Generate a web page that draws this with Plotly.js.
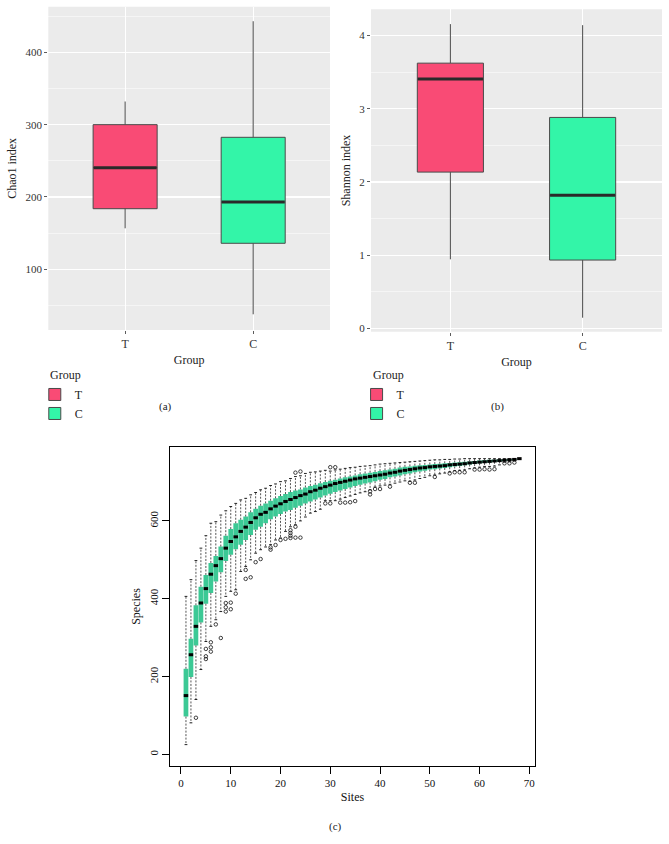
<!DOCTYPE html>
<html>
<head>
<meta charset="utf-8">
<script src="https://cdn.plot.ly/plotly-3.0.1.min.js"></script>
<style>html,body{margin:0;padding:0;background:#fff;}#chart{width:669px;height:844px;}</style>
</head>
<body>
<div id="chart"></div>
<script>
// ---- Panel (a): Chao1 index ----
const groups = ['T', 'C'];
const groupColors = ['#F94B75', '#33F5A8'];
const chaoLo = [156.7, 37.8];
const chaoQ1 = [183.8, 136];
const chaoMed = [240.5, 193];
const chaoQ3 = [300, 282.5];
const chaoHi = [332, 443];

// ---- Panel (b): Shannon index ----
const shanLo = [0.943, 0.145];
const shanQ1 = [2.135, 0.933];
const shanMed = [3.406, 1.817];
const shanQ3 = [3.624, 2.882];
const shanHi = [4.157, 4.143];

// ---- Panel (c): species accumulation ----
const sites = [1,2,3,4,5,6,7,8,9,10,11,12,13,14,15,16,17,18,19,20,21,22,23,24,25,26,27,28,29,30,31,32,33,34,35,36,37,38,39,40,41,42,43,44,45,46,47,48,49,50,51,52,53,54,55,56,57,58,59,60,61,62,63,64,65,66,67,68];
const siteMed = [151,256,329,389,426,463,485,503,530,547,559,573,584,596,608,617,622,631,638,644,650,655,660,665,669,675,679,684,688,692,696,699,702,705,708,710,712,714,716,718,720,723,725,728,730,732,734,736,737,739,740,741,742,744,745,746,747,749,750,751,752,753,754,755,756,757,758,760];
const siteQ1 = [97,199,280,339,387,415,444,468,497,513,527,539,551,564,577,585,594,604,611,618,624,628,634,639,645,650,655,660,665,670,674,678,682,686,690,693,696,699,702,706,708,712,714,717,720,722,725,727,729,732,733,735,736,738,740,741,743,745,746,748,749,750,752,753,754,756,757,760];
const siteQ3 = [220,297,383,431,461,492,510,534,562,579,594,603,611,622,631,639,645,652,658,664,669,674,678,681,686,690,693,697,700,703,706,709,712,714,717,720,722,724,726,728,730,732,734,737,739,740,742,743,744,745,746,747,748,749,750,751,752,753,754,755,756,757,757,758,758,759,759,760];
const siteHi = [406,449,498,530,562,594,598,615,626,637,645,654,658,667,673,680,684,691,695,701,703,709,714,716,722,725,726,728,730,728,731,733,735,737,738,740,741,742,744,746,747,748,749,750,751,752,753,754,755,756,757,757,758,758,759,759,760,760,760,760,760,760,760,760,760,760,760,760];
const siteLo = [25,81,141,218,290,329,346,367,406,419,423,470,483,500,517,526,533,539,551,556,573,585,590,600,610,620,624,630,652,652,652,656,660,664,668,672,675,680,687,690,692,694,697,700,703,702,705,709,712,716,718,721,723,726,729,730,731,734,736,738,740,740,741,744,751,752,754,760];
const outSite = [3,5,5,5,6,6,6,7,8,9,9,9,10,10,11,13,13,14,15,16,18,18,19,20,21,22,22,22,22,23,23,23,24,24,29,30,30,31,32,33,34,35,38,38,39,40,42,46,47,51,54,55,56,57,59,60,61,62,63,65,66,67];
const outVal = [94,271,252,245,288,275,264,334,299,389,378,367,390,373,413,474,451,455,494,502,532,526,538,551,554,576,569,562,556,585,557,724,557,727,645,645,738,738,647,647,648,651,676,668,682,682,688,698,698,713,722,725,725,725,732,732,733,732,733,748,748,750];

const serif = 'Liberation Serif, Times New Roman, serif';
const traces = [];

function ggBoxes(lo, q1, med, q3, hi, xa, ya, leg, medSize) {
  groups.forEach((g, i) => {
    traces.push({
      type: 'box', name: g, x: [g], q1: [q1[i]], median: [med[i]], q3: [q3[i]],
      lowerfence: [lo[i]], upperfence: [hi[i]],
      xaxis: xa, yaxis: ya, legend: leg, legendgroup: leg + g,
      width: 0.5, whiskerwidth: 0,
      fillcolor: groupColors[i], line: {color: '#4a4a4a', width: 1},
      hoverinfo: 'skip'
    });
  });
  traces.push({
    type: 'scatter', mode: 'markers', x: groups, y: med, xaxis: xa, yaxis: ya,
    showlegend: false, hoverinfo: 'skip',
    marker: {symbol: 'line-ew', size: medSize, color: '#2a2a2a', line: {color: '#2a2a2a', width: 3}}
  });
}
ggBoxes(chaoLo, chaoQ1, chaoMed, chaoQ3, chaoHi, 'x', 'y', 'legend', 45);
ggBoxes(shanLo, shanQ1, shanMed, shanQ3, shanHi, 'x2', 'y2', 'legend2', 46.5);

// Panel (c) boxes (fill only)
traces.push({
  type: 'box', x: sites, q1: siteQ1, median: siteMed, q3: siteQ3,
  lowerfence: siteLo, upperfence: siteHi,
  xaxis: 'x3', yaxis: 'y3', showlegend: false, width: 0.95, whiskerwidth: 0,
  fillcolor: '#3CC995', line: {color: '#3CC995', width: 0}, hoverinfo: 'skip'
});
// dashed whiskers
const wx = [], wy = [];
sites.forEach((s, i) => {
  wx.push(s, s, null, s, s, null);
  wy.push(siteQ3[i], siteHi[i], null, siteQ1[i], siteLo[i], null);
});
traces.push({
  type: 'scatter', mode: 'lines', x: wx, y: wy, xaxis: 'x3', yaxis: 'y3',
  showlegend: false, hoverinfo: 'skip', connectgaps: false,
  line: {color: '#555555', width: 1, dash: '2px,1.5px'}
});
// staples
traces.push({
  type: 'scatter', mode: 'markers', x: sites.concat(sites), y: siteHi.concat(siteLo),
  xaxis: 'x3', yaxis: 'y3', showlegend: false, hoverinfo: 'skip',
  marker: {symbol: 'line-ew', size: 2, color: '#222', line: {color: '#222', width: 1}}
});
// medians
traces.push({
  type: 'scatter', mode: 'markers', x: sites, y: siteMed, xaxis: 'x3', yaxis: 'y3',
  showlegend: false, hoverinfo: 'skip',
  marker: {symbol: 'line-ew', size: 3.2, color: '#000', line: {color: '#000', width: 3}}
});
// outliers
traces.push({
  type: 'scatter', mode: 'markers', x: outSite, y: outVal, xaxis: 'x3', yaxis: 'y3',
  showlegend: false, hoverinfo: 'skip',
  marker: {symbol: 'circle-open', size: 3.5, color: '#111', line: {color: '#111', width: 0.8}}
});

const ggX = (domain) => ({
  domain: domain, type: 'category', categoryorder: 'array', categoryarray: groups,
  range: [-0.6, 1.6], showgrid: true, gridcolor: '#ffffff', gridwidth: 1.1,
  ticks: 'outside', ticklen: 3, tickcolor: '#333', tickwidth: 0.8,
  tickfont: {family: serif, size: 12, color: '#333'}, zeroline: false, showline: false,
  title: {text: 'Group', font: {family: serif, size: 12, color: '#222'}, standoff: 5},
  fixedrange: true
});
const ggY = (domain, range, dtick, minorDtick, title) => ({
  domain: domain, range: range, dtick: dtick, showgrid: true, gridcolor: '#ffffff', gridwidth: 1.1,
  minor: {dtick: minorDtick, showgrid: true, gridcolor: '#ffffff', gridwidth: 0.5, ticks: ''},
  ticks: 'outside', ticklen: 3, tickcolor: '#333', tickwidth: 0.8,
  tickfont: {family: serif, size: 11, color: '#333'}, zeroline: false, showline: false,
  title: {text: title, font: {family: serif, size: 12, color: '#222'}, standoff: 6},
  fixedrange: true
});

const bgShape = (xr, yr) => ({
  type: 'rect', xref: xr + ' domain', yref: yr + ' domain', x0: 0, x1: 1, y0: 0, y1: 1,
  fillcolor: '#EBEBEB', line: {width: 0}, layer: 'below'
});

const legendBase = (x) => ({
  x: x, y: 0.5498, xanchor: 'left', yanchor: 'top', bgcolor: 'rgba(0,0,0,0)',
  font: {family: serif, size: 12, color: '#222'}, tracegroupgap: 0, itemwidth: 30
});

const ann = (text, x, y, xanchor) => ({
  text: text, x: x, y: y, xref: 'paper', yref: 'paper', xanchor: xanchor, yanchor: 'middle',
  showarrow: false, font: {family: serif, size: xanchor === 'left' ? 12 : 11, color: '#222'}
});

const layout = {
  width: 669, height: 844,
  margin: {l: 0, r: 0, t: 0, b: 0},
  paper_bgcolor: '#ffffff', plot_bgcolor: '#ffffff',
  font: {family: serif, color: '#222'},
  hovermode: false, boxmode: 'overlay',
  shapes: [bgShape('x', 'y'), bgShape('x2', 'y2')],
  xaxis: Object.assign(ggX([0.0722, 0.4933]), {anchor: 'y'}),
  yaxis: Object.assign(ggY([0.609, 0.992], [16.1, 463], 100, 50, 'Chao1 index'), {anchor: 'x'}),
  xaxis2: Object.assign(ggX([0.5546, 0.9895]), {anchor: 'y2'}),
  yaxis2: Object.assign(ggY([0.607, 0.989], [-0.046, 4.36], 1, 0.5, 'Shannon index'), {anchor: 'x2'}),
  xaxis3: {
    domain: [0.2541, 0.7997], anchor: 'y3', range: [-2.21, 71.14],
    tickvals: [0, 10, 20, 30, 40, 50, 60, 70], ticks: 'outside', ticklen: 7, tickcolor: '#000', tickwidth: 1,
    showline: true, mirror: true, linecolor: '#000', linewidth: 1, showgrid: false, zeroline: false,
    tickfont: {family: serif, size: 11, color: '#111'},
    title: {text: 'Sites', font: {family: serif, size: 12, color: '#111'}, standoff: 4}, fixedrange: true
  },
  yaxis3: {
    domain: [0.0924, 0.4704], anchor: 'x3', range: [-30, 790],
    tickvals: [0, 200, 400, 600], tickangle: -90, ticks: 'outside', ticklen: 7, tickcolor: '#000', tickwidth: 1,
    showline: true, mirror: true, linecolor: '#000', linewidth: 1, showgrid: false, zeroline: false,
    tickfont: {family: serif, size: 11, color: '#111'},
    title: {text: 'Species', font: {family: serif, size: 12, color: '#111'}, standoff: 4}, fixedrange: true
  },
  legend: legendBase(0.052),
  legend2: legendBase(0.533),
  annotations: [
    ann('Group', 0.0717, 0.5557, 'left'),
    ann('Group', 0.5545, 0.5557, 'left'),
    ann('(a)', 0.248, 0.518, 'center'),
    ann('(b)', 0.744, 0.518, 'center'),
    ann('(c)', 0.502, 0.0213, 'center')
  ]
};

Plotly.newPlot('chart', traces, layout, {staticPlot: true, displayModeBar: false});
</script>
</body>
</html>
